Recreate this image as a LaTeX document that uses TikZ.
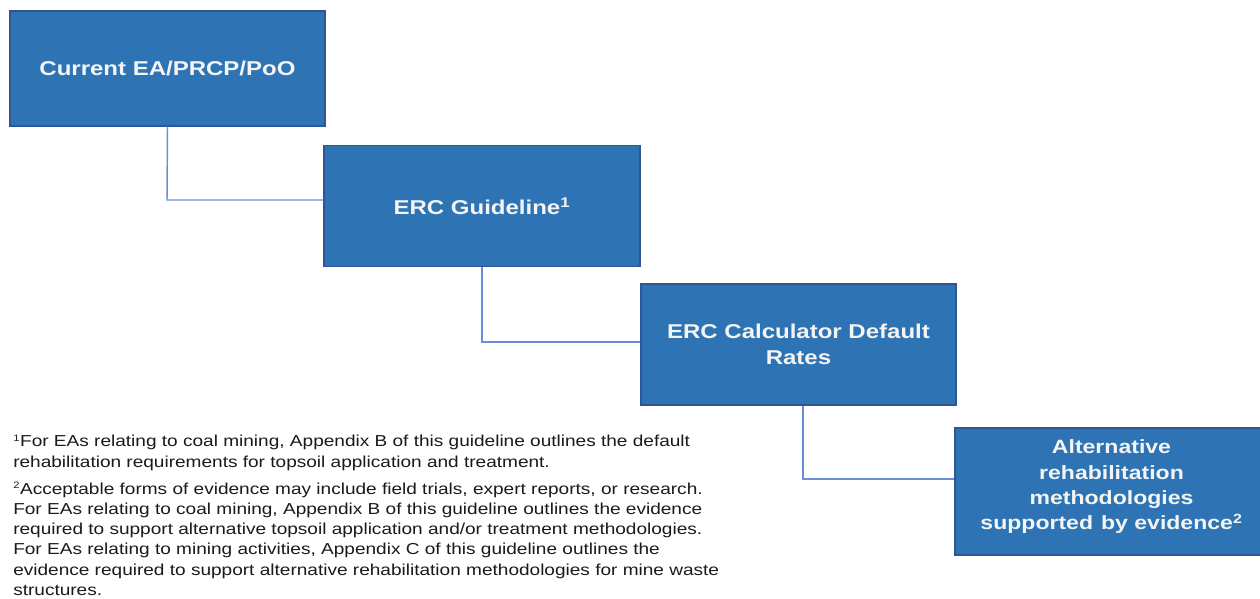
\documentclass[tikz,border=0pt]{standalone}
\usepackage{fontspec}
\setmainfont[FakeStretch=1.2]{Liberation Sans}
\definecolor{boxfill}{HTML}{2E74B5}
\definecolor{boxline}{HTML}{2F5597}
\definecolor{conn}{HTML}{6A8FD6}
\definecolor{notetext}{HTML}{1A1A1A}
\definecolor{boxtext}{HTML}{F4F4F4}
\begin{document}
\begin{tikzpicture}[x=0.75pt,y=-0.75pt,
  stage/.style={draw=boxline,line width=0.8pt,fill=boxfill,text=boxtext,
    font=\bfseries\fontsize{15pt}{20pt}\selectfont,align=center,inner sep=0pt},
  stagetext/.style={text=boxtext,font=\bfseries\fontsize{14.4pt}{19pt}\selectfont,align=center,inner sep=0pt},
  link/.style={draw=conn,line width=1.1pt},
  note/.style={anchor=north west,inner sep=0pt,align=left,text=notetext,
    font=\fontsize{11.9pt}{15.1pt}\selectfont}]
\useasboundingbox (0,0) rectangle (1260,599);
\node[stage,minimum width=315*0.75pt,minimum height=115*0.75pt] (b1) at (167.5,68.5) {\raisebox{-1pt}{Current EA/PRCP/PoO}};
\node[stage,minimum width=316*0.75pt,minimum height=121*0.75pt] (b2) at (482,206) {ERC Guideline\textsuperscript{1}};
\node[stage,minimum width=315*0.75pt,minimum height=121*0.75pt] (b3) at (798.5,344.5) {ERC Calculator Default\\Rates};
\node[stage,minimum width=315*0.75pt,minimum height=127*0.75pt] (b4) at (1112.5,491.5) {};
\node[stagetext] (b4t) at (1111.5,487) {Alternative\\rehabilitation\\methodologies\\supported\hspace{6pt}by evidence\textsuperscript{2}};
\coordinate (k1) at (167,200);
\coordinate (k2) at (482,342);
\coordinate (k3) at (803,479);
\draw[link] (b1.south) -- (k1) -- (k1 -| b2.west);
\draw[link] (b2.south) -- (k2) -- (k2 -| b3.west);
\draw[link] (b3.south -| k3) -- (k3) -- (k3 -| b4.west);
\node[note] (n1) at (13,434.5) {\textsuperscript{\fontsize{7pt}{7pt}\selectfont 1}For EAs relating to coal mining, Appendix B of this guideline outlines the default\\rehabilitation requirements for topsoil application and treatment.};
\node[note] (n2) at (13,482) {\textsuperscript{\fontsize{7pt}{7pt}\selectfont 2}Acceptable forms of evidence may include field trials, expert reports, or research.\\For EAs relating to coal mining, Appendix B of this guideline outlines the evidence\\required to support alternative topsoil application and/or treatment methodologies.\\For EAs relating to mining activities, Appendix C of this guideline outlines the\\evidence required to support alternative rehabilitation methodologies for mine waste\\structures.};
\end{tikzpicture}
\end{document}
